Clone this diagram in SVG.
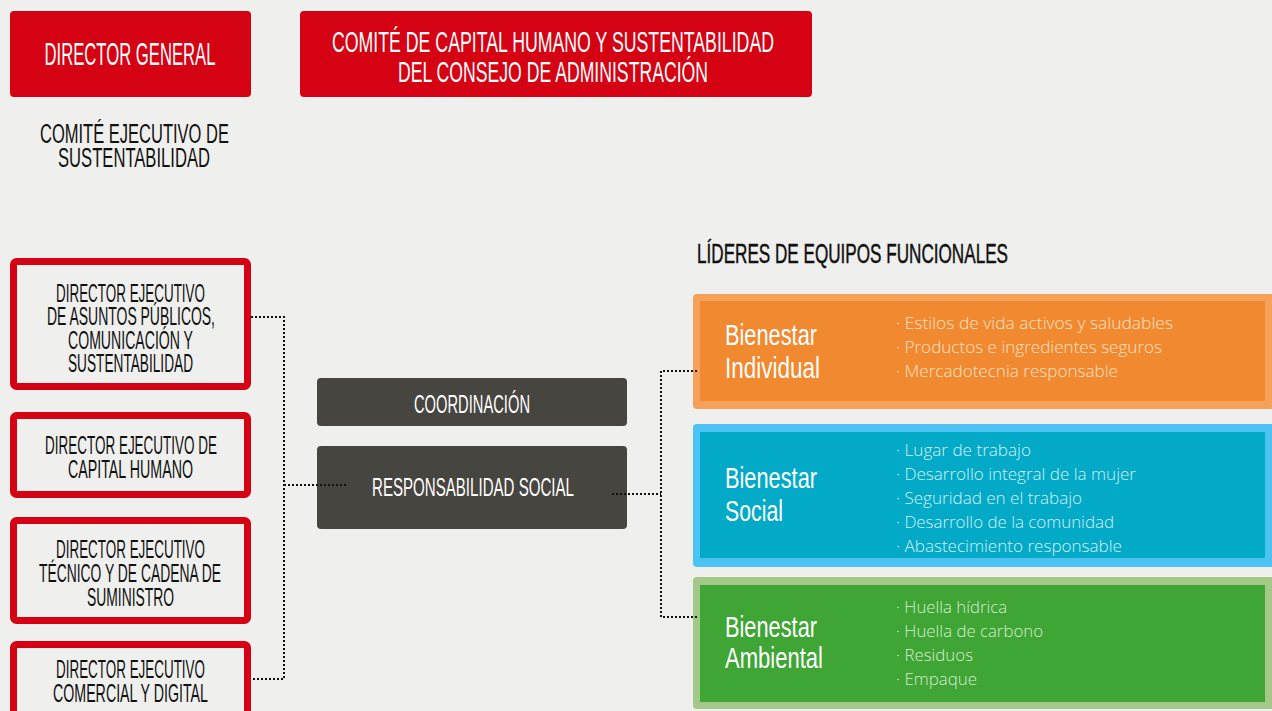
<svg xmlns="http://www.w3.org/2000/svg" width="1272" height="711" viewBox="0 0 1272 711">
<style>
.cond{font-family:"Liberation Sans","DejaVu Sans",sans-serif;text-anchor:middle}
.w{fill:#ffffff}
.k{fill:#111111}
.red{fill:#d50213}
.dir{fill:#efefed;stroke:#d50213;stroke-width:7}
.dark{fill:#47453f}
.lbl{font-family:"Liberation Sans","DejaVu Sans",sans-serif;fill:#ffffff;font-size:30px}
.bul{font-family:"Open Sans","Noto Sans",sans-serif;font-weight:300;font-size:17px}
.dot{fill:none;stroke:#111111;stroke-width:2;stroke-dasharray:2 2}
</style>
<rect x="0" y="0" width="1272" height="711" fill="#efefed"/>

<g id="director-general">
<rect class="red" x="10" y="11" width="241" height="86" rx="4"/>
<text class="cond w" x="130" y="65" font-size="32" textLength="171" lengthAdjust="spacingAndGlyphs">DIRECTOR GENERAL</text>
</g>

<g id="comite-capital-humano">
<rect class="red" x="300" y="11" width="512" height="86" rx="4"/>
<text class="cond w" x="553" y="52" font-size="30" textLength="442" lengthAdjust="spacingAndGlyphs">COMITÉ DE CAPITAL HUMANO Y SUSTENTABILIDAD</text>
<text class="cond w" x="553" y="82" font-size="30" textLength="310" lengthAdjust="spacingAndGlyphs">DEL CONSEJO DE ADMINISTRACIÓN</text>
</g>

<g id="comite-ejecutivo">
<text class="cond k" x="134.5" y="143" font-size="27" textLength="189" lengthAdjust="spacingAndGlyphs">COMITÉ EJECUTIVO DE</text>
<text class="cond k" x="134" y="167" font-size="27" textLength="152" lengthAdjust="spacingAndGlyphs">SUSTENTABILIDAD</text>
</g>

<g id="dir-asuntos-publicos">
<rect class="dir" x="13.5" y="261.5" width="234" height="125" rx="3"/>
<text class="cond k" x="130.5" y="302" font-size="25" textLength="149" lengthAdjust="spacingAndGlyphs">DIRECTOR EJECUTIVO</text>
<text class="cond k" x="131" y="325" font-size="25" textLength="168" lengthAdjust="spacingAndGlyphs">DE ASUNTOS PÚBLICOS,</text>
<text class="cond k" x="130.5" y="348.5" font-size="25" textLength="125" lengthAdjust="spacingAndGlyphs">COMUNICACIÓN Y</text>
<text class="cond k" x="130.5" y="372" font-size="25" textLength="125" lengthAdjust="spacingAndGlyphs">SUSTENTABILIDAD</text>
</g>

<g id="dir-capital-humano">
<rect class="dir" x="13.5" y="415.5" width="234" height="79" rx="3"/>
<text class="cond k" x="131" y="454" font-size="25" textLength="172" lengthAdjust="spacingAndGlyphs">DIRECTOR EJECUTIVO DE</text>
<text class="cond k" x="130.5" y="478" font-size="25" textLength="125" lengthAdjust="spacingAndGlyphs">CAPITAL HUMANO</text>
</g>

<g id="dir-tecnico">
<rect class="dir" x="13.5" y="520.5" width="234" height="100" rx="3"/>
<text class="cond k" x="130.5" y="558" font-size="25" textLength="149" lengthAdjust="spacingAndGlyphs">DIRECTOR EJECUTIVO</text>
<text class="cond k" x="130" y="582" font-size="25" textLength="182" lengthAdjust="spacingAndGlyphs">TÉCNICO Y DE CADENA DE</text>
<text class="cond k" x="130.5" y="606" font-size="25" textLength="87" lengthAdjust="spacingAndGlyphs">SUMINISTRO</text>
</g>

<g id="dir-comercial">
<rect class="dir" x="13.5" y="644.5" width="234" height="90" rx="3"/>
<text class="cond k" x="130.5" y="678" font-size="25" textLength="149" lengthAdjust="spacingAndGlyphs">DIRECTOR EJECUTIVO</text>
<text class="cond k" x="130.5" y="702" font-size="25" textLength="155" lengthAdjust="spacingAndGlyphs">COMERCIAL Y DIGITAL</text>
</g>

<g id="coordinacion">
<rect class="dark" x="317" y="378" width="310" height="48" rx="4"/>
<text class="cond w" x="472" y="413" font-size="25" textLength="116" lengthAdjust="spacingAndGlyphs">COORDINACIÓN</text>
</g>

<g id="responsabilidad-social">
<rect class="dark" x="317" y="446" width="310" height="83" rx="4"/>
<text class="cond w" x="473" y="496" font-size="26" textLength="202" lengthAdjust="spacingAndGlyphs">RESPONSABILIDAD SOCIAL</text>
</g>

<g id="lideres-title">
<text x="697" y="263" font-family="Liberation Sans, DejaVu Sans, sans-serif" font-size="28" fill="#111111" stroke="#111111" stroke-width="0.5" textLength="311" lengthAdjust="spacingAndGlyphs">LÍDERES DE EQUIPOS FUNCIONALES</text>
</g>

<g id="bienestar-individual">
<rect x="693" y="294" width="600" height="115" rx="4" fill="#f5a15a"/>
<rect x="700" y="301" width="565" height="100" fill="#f0892f"/>
<text class="lbl" x="725" y="345" textLength="92" lengthAdjust="spacingAndGlyphs">Bienestar</text>
<text class="lbl" x="725" y="378" textLength="95" lengthAdjust="spacingAndGlyphs">Individual</text>
<g class="bul" fill="#fde2c8">
<text x="896" y="329" textLength="277" lengthAdjust="spacingAndGlyphs">· Estilos de vida activos y saludables</text>
<text x="896" y="353" textLength="266" lengthAdjust="spacingAndGlyphs">· Productos e ingredientes seguros</text>
<text x="896" y="377" textLength="222" lengthAdjust="spacingAndGlyphs">· Mercadotecnia responsable</text>
</g>
</g>

<g id="bienestar-social">
<rect x="693" y="424" width="600" height="143" rx="4" fill="#4cc3f1"/>
<rect x="700" y="432" width="565" height="126" fill="#02aac7"/>
<text class="lbl" x="725" y="488" textLength="92" lengthAdjust="spacingAndGlyphs">Bienestar</text>
<text class="lbl" x="725" y="521" textLength="58" lengthAdjust="spacingAndGlyphs">Social</text>
<g class="bul" fill="#d3eff5">
<text x="896" y="456" textLength="135" lengthAdjust="spacingAndGlyphs">· Lugar de trabajo</text>
<text x="896" y="480" textLength="240" lengthAdjust="spacingAndGlyphs">· Desarrollo integral de la mujer</text>
<text x="896" y="504" textLength="186" lengthAdjust="spacingAndGlyphs">· Seguridad en el trabajo</text>
<text x="896" y="528" textLength="218" lengthAdjust="spacingAndGlyphs">· Desarrollo de la comunidad</text>
<text x="896" y="552" textLength="226" lengthAdjust="spacingAndGlyphs">· Abastecimiento responsable</text>
</g>
</g>

<g id="bienestar-ambiental">
<rect x="693" y="577" width="600" height="132" rx="4" fill="#a3c887"/>
<rect x="700" y="585" width="565" height="117" fill="#3fa535"/>
<text class="lbl" x="725" y="637" textLength="92" lengthAdjust="spacingAndGlyphs">Bienestar</text>
<text class="lbl" x="725" y="668" textLength="98" lengthAdjust="spacingAndGlyphs">Ambiental</text>
<g class="bul" fill="#d8eccf">
<text x="896" y="613" textLength="111" lengthAdjust="spacingAndGlyphs">· Huella hídrica</text>
<text x="896" y="637" textLength="147" lengthAdjust="spacingAndGlyphs">· Huella de carbono</text>
<text x="896" y="661" textLength="77" lengthAdjust="spacingAndGlyphs">· Residuos</text>
<text x="896" y="685" textLength="81" lengthAdjust="spacingAndGlyphs">· Empaque</text>
</g>
</g>

<g id="connectors">
<path class="dot" d="M251 317 H284 V679 H251"/>
<path class="dot" d="M284 485 H348"/>
<path class="dot" d="M612 494 H661"/>
<path class="dot" d="M697 371 H661 V617 H697"/>
</g>
</svg>
